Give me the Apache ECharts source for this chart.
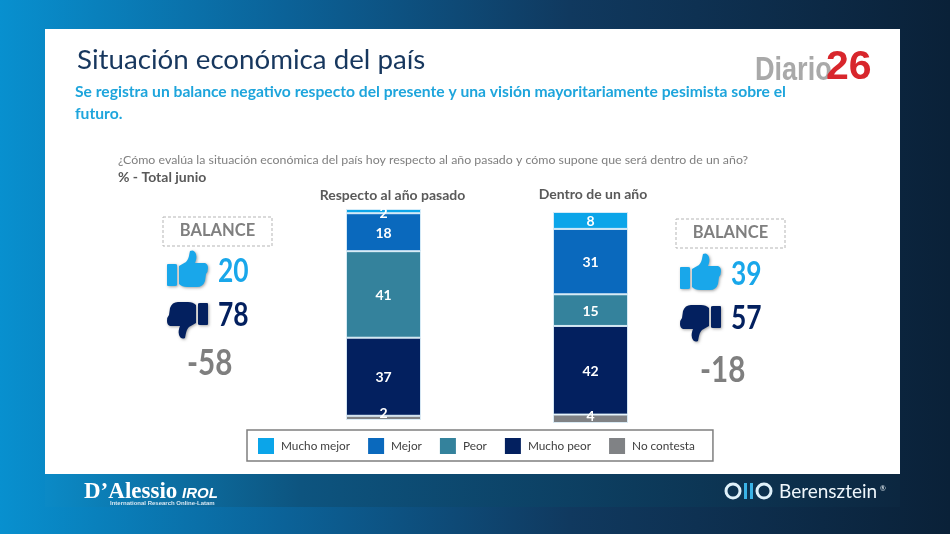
<!DOCTYPE html>
<html>
<head>
<meta charset="utf-8">
<style>html,body{margin:0;padding:0;background:#0a2238}#chart{width:950px;height:534px}</style>
<script src="https://cdn.jsdelivr.net/npm/echarts@6/dist/echarts.min.js"></script>
</head>
<body>
<div id="chart"></div>
<script>
const categories = ['Respecto al año pasado', 'Dentro de un año'];
const seriesNames = ['Mucho mejor', 'Mejor', 'Peor', 'Mucho peor', 'No contesta'];
const pastYear = [2, 18, 41, 37, 2];
const nextYear = [8, 31, 15, 42, 4];
const seriesColors = ['#0ba5e9', '#0a69bd', '#34829c', '#03205f', '#808285'];
const balancePast = [20, 78, '-58'];
const balanceNext = [39, 57, '-18'];

const FONT = 'Lato';
const THUMB = 'M0 15Q0 14 1 14H8Q10 14 10 15V35Q10 36 8 36H1Q0 36 0 35ZM12 16L19 12C22 9 22 5 23 1Q27 -1 29 4C30 8 29 10 28 13H38Q41 14 41 18Q41 22 39 24L38 31Q36 37 30 37H20Q15 37 12 34Z';

echarts.graphic.registerShape('thumb', echarts.graphic.extendPath(THUMB, {}));

function text(x, y, str, size, color, weight, extra) {
	return {
		type: 'text', x: x, y: y, silent: true,
		style: Object.assign({
			text: str, fontFamily: FONT, fontSize: size, fill: color,
			fontWeight: weight || 'normal', textVerticalAlign: 'middle'
		}, extra || {})
	};
}

// Lato digits are wider than the slide's font, squeeze them
function squeezed(el, scale) {
	el.scaleX = scale;
	return el;
}

function thumb(x, y, color, down) {
	return {
		type: 'thumb', x: x, y: y, rotation: down ? Math.PI : 0, silent: true,
		style: { fill: color, shadowBlur: 3, shadowColor: 'rgba(0,0,0,0.35)', shadowOffsetX: 1, shadowOffsetY: 1 }
	};
}

function balanceBlock(values, boxX, boxY, shiftX, shiftY, diffX, diffY) {
	return [
		{
			type: 'rect', silent: true,
			shape: { x: boxX, y: boxY, width: 109, height: 29 },
			style: { fill: '#fff', stroke: '#b5b5b5', lineWidth: 1, lineDash: [3, 2] }
		},
		text(boxX + 54.5, boxY + 14, 'BALANCE', 16.5, '#7f7f7f', 'bold', { align: 'center' }),
		thumb(shiftX, shiftY, '#19a7ea', false),
		squeezed(text(shiftX + 51, shiftY + 21, String(values[0]), 33, '#19a7ea', 'bold'), 0.8),
		thumb(shiftX + 41, shiftY + 89, '#03205f', true),
		squeezed(text(shiftX + 51, shiftY + 65, String(values[1]), 33, '#03205f', 'bold'), 0.8),
		squeezed(text(diffX, diffY, String(values[2]), 37, '#7f7f7f', 'bold'), 0.8)
	];
}

// one grid per bar, the two bars do not sit on the same baseline in the slide
function barSeries(values, index) {
	return seriesNames.map((name, i) => ({ name, i })).reverse().map(({ name, i }) => ({
		name: name,
		type: 'bar',
		stack: 'total' + index,
		xAxisIndex: index,
		yAxisIndex: index,
		barWidth: '100%',
		itemStyle: { color: seriesColors[i], borderColor: 'rgba(220,238,250,0.9)', borderWidth: 1 },
		label: {
			show: true, position: 'inside', color: '#fff', fontFamily: FONT,
			fontWeight: 'bold', fontSize: 14,
			offset: [0, i === 4 ? (values[i] < 3 ? -4 : -2) : (i === 0 && values[i] < 3 ? 2 : 1)]
		},
		z: 2,
		data: [values[i]]
	}));
}

const chart = echarts.init(document.getElementById('chart'), null, { renderer: 'canvas' });

chart.setOption({
	animation: false,
	backgroundColor: {
		type: 'linear', x: 0, y: 0, x2: 1, y2: 0,
		colorStops: [
			{ offset: 0, color: '#0890cf' },
			{ offset: 0.3, color: '#0b6298' },
			{ offset: 0.6, color: '#10395f' },
			{ offset: 1, color: '#0a2138' }
		]
	},
	grid: [
		{ left: 346, top: 209, width: 75, height: 211 },
		{ left: 553, top: 212, width: 75, height: 211 }
	],
	xAxis: categories.map((c, i) => ({
		type: 'category',
		gridIndex: i,
		position: 'top',
		data: [c],
		axisLine: { show: false },
		axisTick: { show: false },
		axisLabel: {
			color: '#595959', fontFamily: FONT, fontWeight: 'bold', fontSize: 14,
			margin: i === 0 ? 7 : 11, padding: i === 0 ? [0, 0, 0, 18] : [0, 0, 0, 5]
		}
	})),
	yAxis: categories.map((c, i) => ({ type: 'value', gridIndex: i, min: 0, max: 100, show: false })),
	legend: {
		data: seriesNames,
		left: 247,
		top: 430,
		orient: 'horizontal',
		padding: [8, 18, 7, 11],
		itemWidth: 16,
		itemHeight: 16,
		itemGap: 18,
		icon: 'rect',
		itemStyle: { borderWidth: 0 },
		backgroundColor: '#fff',
		borderColor: '#7f7f7f',
		borderWidth: 1.5,
		selectedMode: false,
		textStyle: { color: '#404040', fontFamily: FONT, fontSize: 11.8, padding: [0, 0, 0, 2] }
	},
	series: barSeries(pastYear, 0).concat(barSeries(nextYear, 1)),
	graphic: [
		{
			type: 'group', silent: true, z: -1,
			children: [
				{ type: 'rect', shape: { x: 45, y: 29, width: 855, height: 445 }, style: { fill: '#fff' } },
				{
					type: 'rect', shape: { x: 45, y: 474, width: 855, height: 33 },
					style: {
						fill: {
							type: 'linear', x: 0, y: 0, x2: 1, y2: 0,
							colorStops: [
								{ offset: 0, color: '#0b8ac6' },
								{ offset: 0.3, color: '#0d547f' },
								{ offset: 1, color: '#0c2740' }
							]
						}
					}
				}
			]
		},
		text(77, 60, 'Situación económica del país', 27.7, '#17375e'),
		text(75, 92, 'Se registra un balance negativo respecto del presente y una visión mayoritariamente pesimista sobre el', 15.65, '#1ea5dc', 'bold'),
		text(75, 114, 'futuro.', 15.65, '#1ea5dc', 'bold'),
		text(118, 160, '¿Cómo evalúa la situación económica del país hoy respecto al año pasado y cómo supone que será dentro de un año?', 12.35, '#7f7f7f'),
		text(118, 177, '% - Total junio', 14, '#595959', 'bold'),
		squeezed(text(755, 71, 'Diario', 33, '#a9a9a9', 'bold', { fontFamily: 'Liberation Sans' }), 0.82),
		text(826, 68, '26', 41, '#d8262c', 'bold', { fontFamily: 'Liberation Sans' }),
		...balanceBlock(balancePast, 163, 217, 167, 250, 187, 363),
		...balanceBlock(balanceNext, 676, 219, 680, 253, 700, 370),
		text(84, 492, "D’Alessio", 23, '#fff', 'bold', { fontFamily: 'Liberation Serif' }),
		text(182, 494, 'IROL', 15, '#fff', 'bold', { fontFamily: 'Liberation Sans', fontStyle: 'italic' }),
		text(110, 503, 'International Research Online-Latam', 6, '#d5e6f2', 'bold', { fontFamily: 'Liberation Sans' }),
		{ type: 'circle', silent: true, shape: { cx: 733, cy: 491, r: 7 }, style: { fill: 'none', stroke: '#dff1fa', lineWidth: 3 } },
		{ type: 'circle', silent: true, shape: { cx: 764, cy: 491, r: 7 }, style: { fill: 'none', stroke: '#dff1fa', lineWidth: 3 } },
		{ type: 'rect', silent: true, shape: { x: 744, y: 483, width: 3, height: 16 }, style: { fill: '#3bb3e6' } },
		{ type: 'rect', silent: true, shape: { x: 750, y: 483, width: 3, height: 16 }, style: { fill: '#3bb3e6' } },
		text(779, 492, 'Berensztein', 19, '#eef6fb'),
		text(880, 489, '®', 7, '#eef6fb')
	]
});
</script>
</body>
</html>
